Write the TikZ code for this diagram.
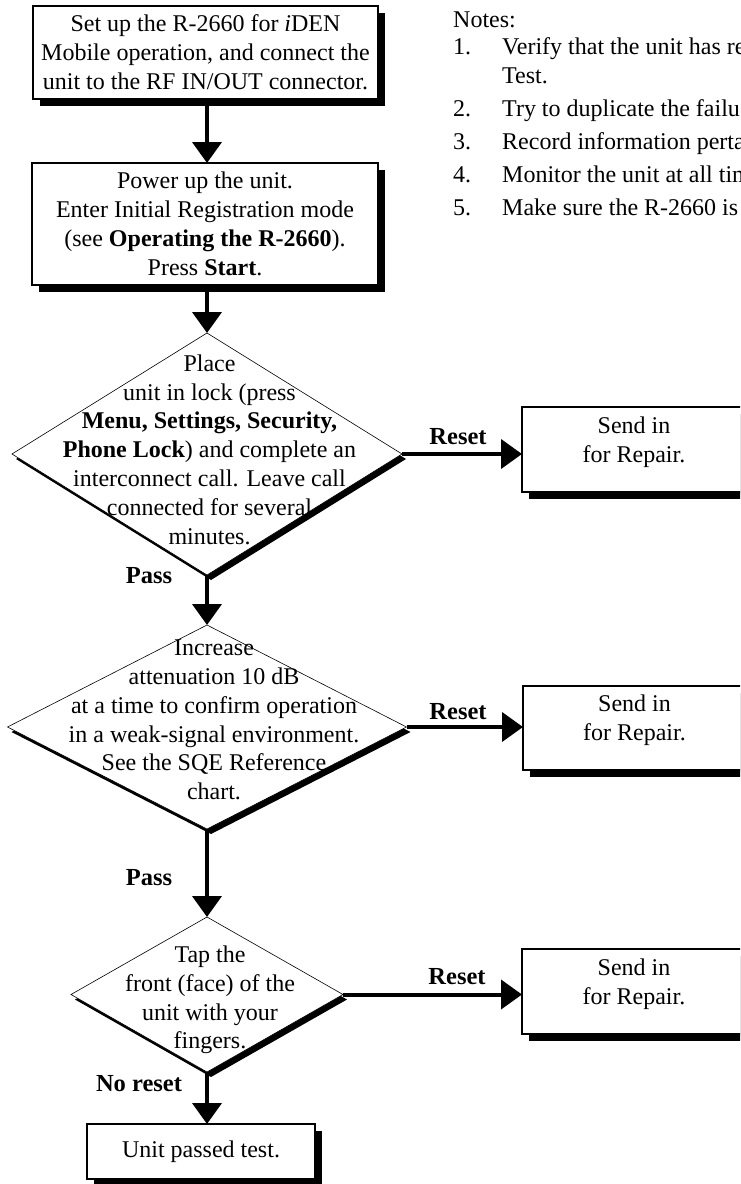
\documentclass[tikz,border=0pt]{standalone}
\usepackage{fontspec}
\setmainfont{Liberation Serif}
\usetikzlibrary{arrows.meta,shapes.geometric,shadows}
\begin{document}
\begin{tikzpicture}[x=1pt,y=-1pt,
  every node/.style={font=\fontsize{24pt}{28.8pt}\selectfont},
  box/.style={draw, line width=1.5pt, fill=white, align=center, inner sep=0pt, outer sep=0pt,
    general shadow={fill=black, shadow xshift=7pt, shadow yshift=-7pt}},
  dia/.style={shape=diamond, draw, line width=0.6pt, fill=white, inner sep=0pt, outer sep=0pt,
    general shadow={fill=black, shadow xshift=4pt, shadow yshift=-5pt}},
  txt/.style={align=center, inner sep=0pt},
  lbl/.style={font=\fontsize{24.5pt}{28.8pt}\selectfont\bfseries, inner sep=0pt},
  conn/.style={line width=4pt, -{Triangle[length=21pt,width=29pt]}},
  note/.style={anchor=base west, inner sep=0pt}
]
\useasboundingbox (0,0) rectangle (740,1184);
\clip (0,0) rectangle (740,1184);

% boxes
\node[box, minimum width=345pt, minimum height=93pt] (b1) at (205.5,52.5)
  {Set up the R-2660 for \textit{i}DEN\\Mobile operation, and connect the\\unit to the RF IN/OUT connector.};
\node[box, minimum width=346pt, minimum height=122pt] (b2) at (205,224)
  {Power up the unit.\\Enter Initial Registration mode\\(see \textbf{Operating the R-2660}).\\Press \textbf{Start}.};

% diamonds
\node[dia, minimum width=390pt, minimum height=242pt] (d1) at (207,454) {};
\node[dia, minimum width=399pt, minimum height=204pt] (d2) at (207,727) {};
\node[dia, minimum width=272pt, minimum height=155pt] (d3) at (207,994.5) {};

% repair boxes
\node[box, minimum width=224pt, minimum height=85pt] (s1) at (634,449.5)
  {Send in\\for Repair.\rule[-20pt]{0pt}{20pt}};
\node[box, minimum width=223pt, minimum height=84pt] (s2) at (634.5,728)
  {Send in\\for Repair.\rule[-20pt]{0pt}{20pt}};
\node[box, minimum width=224pt, minimum height=85pt] (s3) at (634,991.5)
  {Send in\\for Repair.\rule[-20pt]{0pt}{20pt}};

% final box
\node[box, minimum width=228pt, minimum height=55pt] (b3) at (201,1151.5) {Unit passed test.};

% connectors
\draw[conn] (b1.south -| d1.north) -- (b2.north -| d1.north);
\draw[conn] (b2.south -| d1.north) -- (d1.north);
\draw[conn] (d1.south) -- (d2.north);
\draw[conn] (d2.south) -- (d3.north);
\draw[conn] (d3.south) -- (d3.south |- b3.north);
\draw[conn] (d1.east) -- (d1.east -| s1.west);
\draw[conn] (d2.east) -- (d2.east -| s2.west);
\draw[conn] (d3.east) -- (d3.east -| s3.west);

% diamond texts
\node[txt] (t1) at (209.5,449.5)
  {Place\\unit in lock (press\\\textbf{Menu, Settings, Security,}\\\textbf{Phone Lock}) and complete an\\interconnect call. Leave call\\connected for several\\minutes.};
\node[txt] (t2) at (214,720)
  {Increase\\attenuation 10 dB\\at a time to confirm operation\\in a weak-signal environment.\\See the SQE Reference\\chart.};
\node[txt] (t3) at (210,1000)
  {Tap the\\front (face) of the\\unit with your\\fingers.};

% labels
\node[lbl] (p1) at (149,576) {Pass};
\node[lbl] (p2) at (149,878) {Pass};
\node[lbl] (nr) at (139,1084) {No reset};
\node[lbl] (r1) at (458,437) {Reset};
\node[lbl] (r2) at (458,712) {Reset};
\node[lbl] (r3) at (457,977) {Reset};

% notes
\node[note] (nh) at (453,27) {Notes:};
\node[note] (n1) at (453,54) {1.};
\node[note] (n1t) at (502,54) {Verify that the unit has re};
\node[note] (n1u) at (502,83) {Test.};
\node[note] (n2) at (453,116) {2.};
\node[note] (n2t) at (502,116) {Try to duplicate the failu};
\node[note] (n3) at (453,149) {3.};
\node[note] (n3t) at (502,149) {Record information perta};
\node[note] (n4) at (453,182) {4.};
\node[note] (n4t) at (502,182) {Monitor the unit at all tim};
\node[note] (n5) at (453,215) {5.};
\node[note] (n5t) at (502,215) {Make sure the R-2660 is};
\end{tikzpicture}
\end{document}
